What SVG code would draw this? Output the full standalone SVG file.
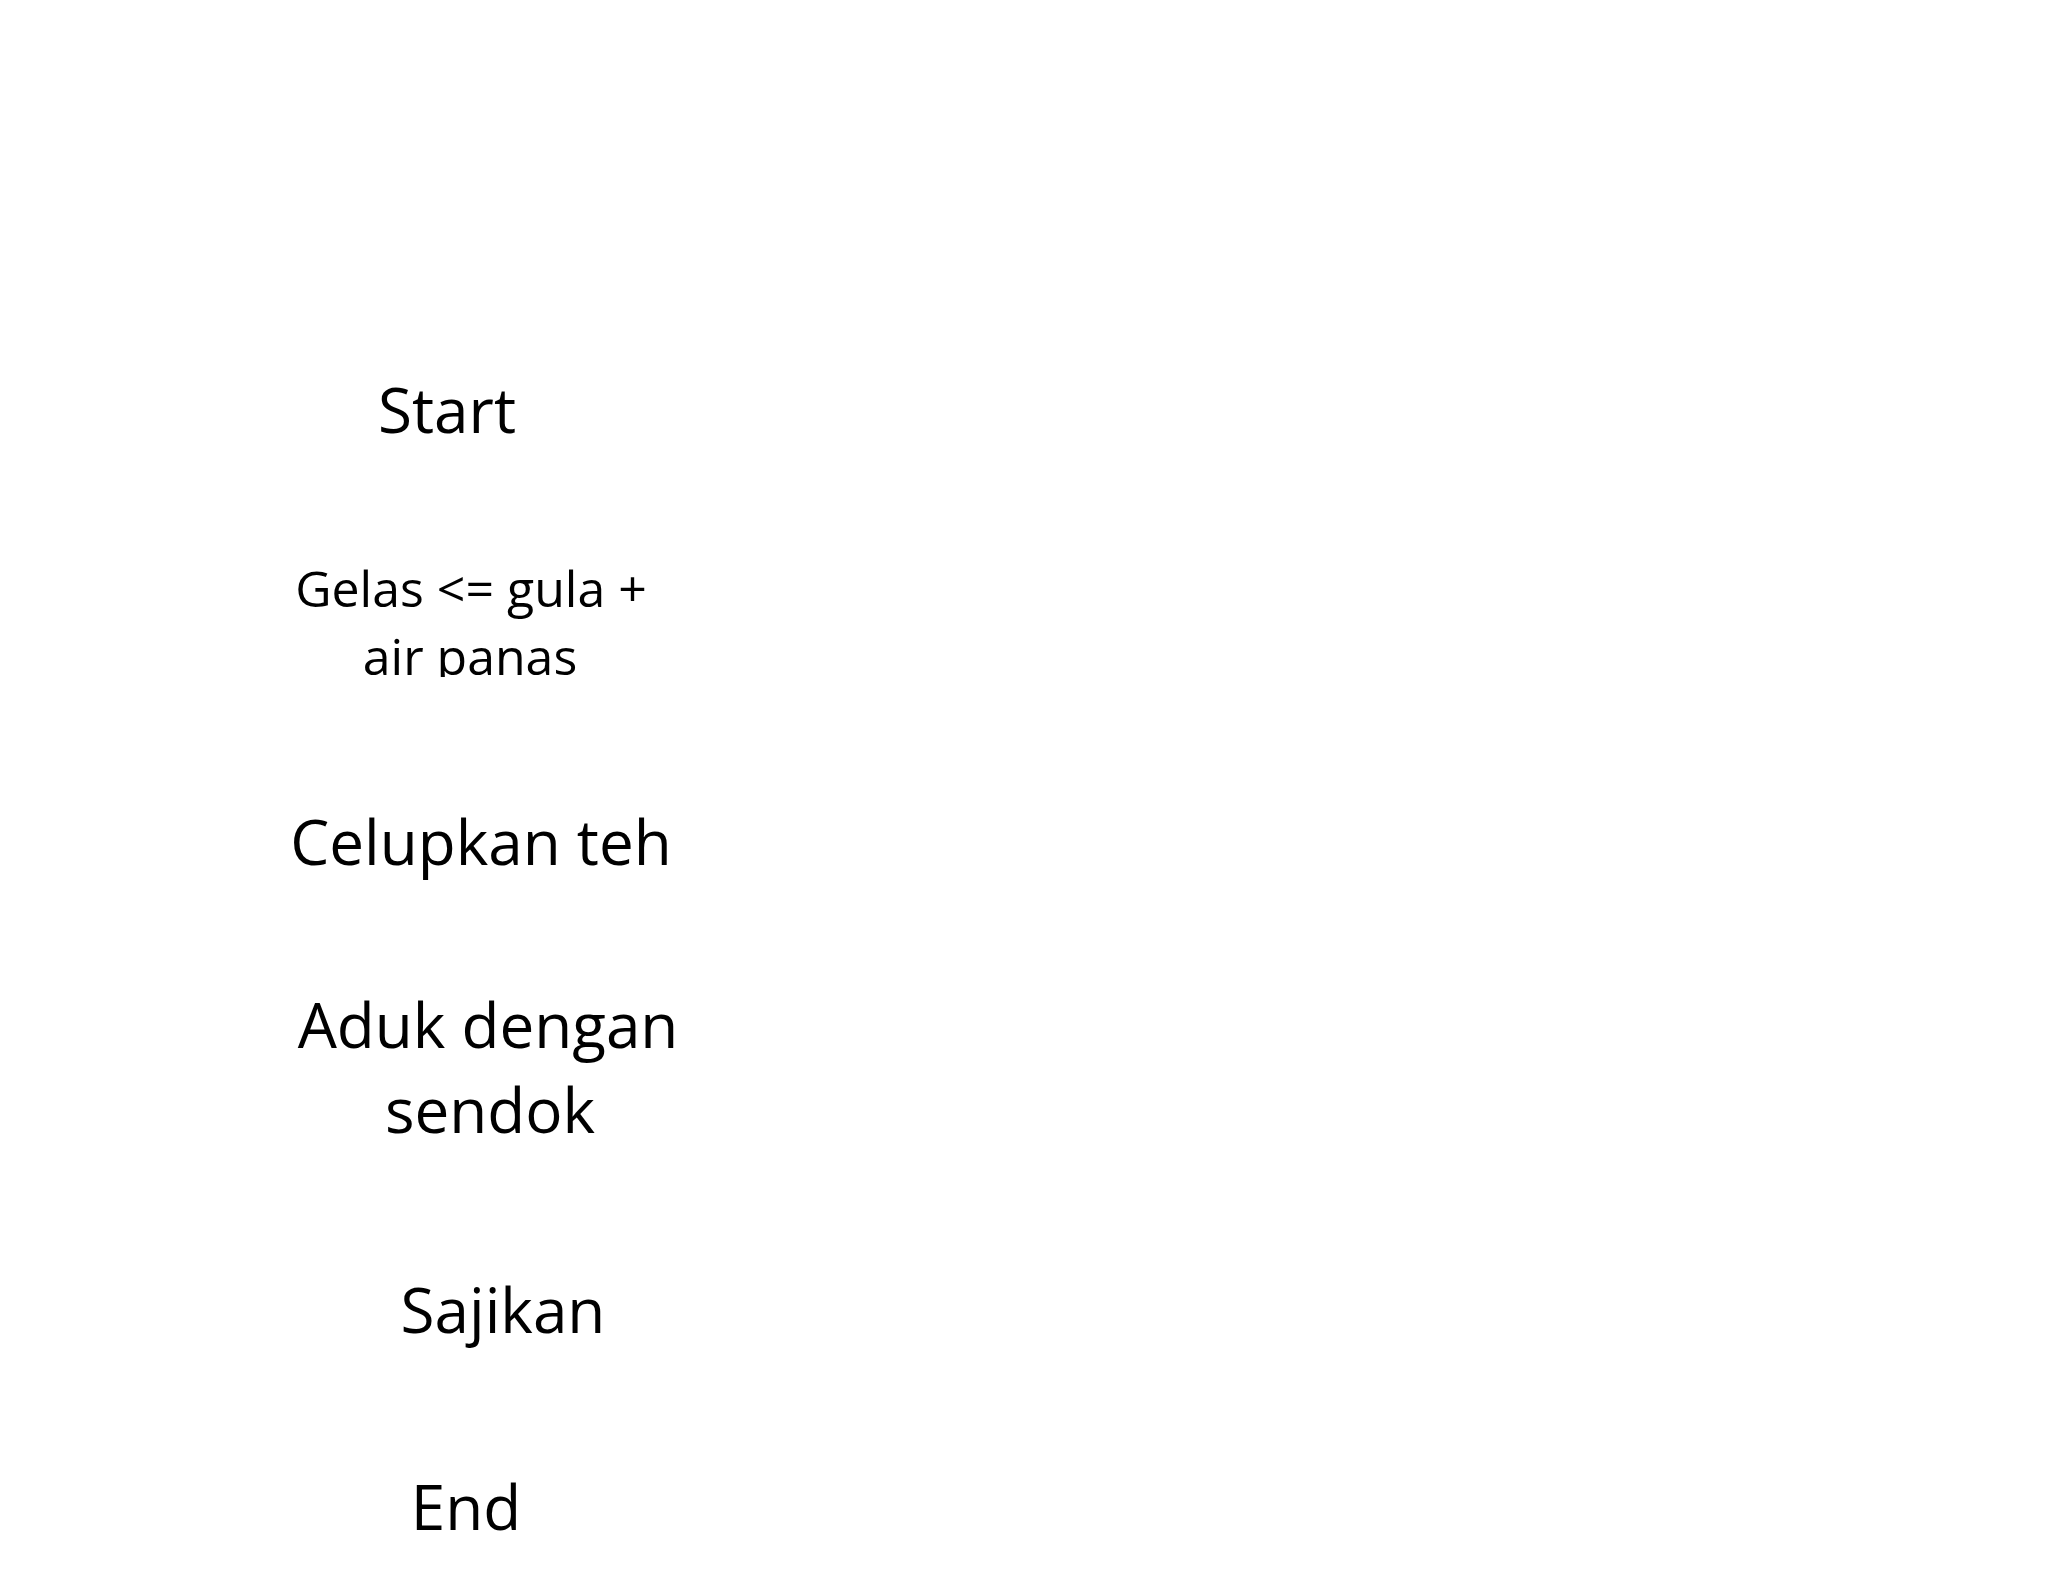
<svg xmlns="http://www.w3.org/2000/svg" width="2048" height="1572" viewBox="0 0 2048 1572">
<style>
  text { font-family: "Open Sans", "Noto Sans", "Liberation Sans", sans-serif; fill: #000000; }
  .big { font-size: 62px; }
  .mid { font-size: 62px; }
  .small { font-size: 50px; }
</style>
<defs>
  <clipPath id="clipGelas"><rect x="200" y="520" width="600" height="157"/></clipPath>
</defs>
<rect x="0" y="0" width="2048" height="1572" fill="#ffffff"/>
<g id="connectors"></g>
<g id="node-start"><text class="mid" x="447" y="433" text-anchor="middle">Start</text></g>
<g id="node-gelas" clip-path="url(#clipGelas)">
  <text class="small" x="471" y="607" text-anchor="middle">Gelas &lt;= gula +</text>
  <text class="small" x="470" y="675" text-anchor="middle">air panas</text>
</g>
<g id="node-celupkan"><text class="big" x="481" y="865" text-anchor="middle">Celupkan teh</text></g>
<g id="node-aduk">
  <text class="big" x="488" y="1048" text-anchor="middle">Aduk dengan</text>
  <text class="big" x="490" y="1133" text-anchor="middle">sendok</text>
</g>
<g id="node-sajikan"><text class="big" x="503" y="1333" text-anchor="middle">Sajikan</text></g>
<g id="node-end"><text class="big" x="466" y="1530" text-anchor="middle">End</text></g>
</svg>
